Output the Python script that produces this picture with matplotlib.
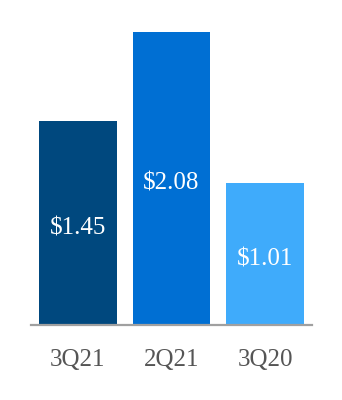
import matplotlib
matplotlib.use("Agg")
import matplotlib.pyplot as plt

categories = ["3Q21", "2Q21", "3Q20"]
values = [1.45, 2.08, 1.01]
labels = ["$1.45", "$2.08", "$1.01"]
colors = ["#00487e", "#006fd3", "#3fabfb"]

fig = plt.figure(figsize=(3.42, 4.0), dpi=100)
ax = fig.add_axes([31/342, 75/400, (312-31)/342, 300/400])
x = list(range(len(categories)))
bars = ax.bar(x, values, width=0.83, color=colors)
for xi, v, lab in zip(x, values, labels):
    ax.annotate(lab, (xi, v/2), xytext=(0, -4), textcoords="offset points",
                ha="center", va="center", color="white",
                fontsize=18, family="Liberation Serif")
ax.set_xlim(-0.5, 2.5)
ax.set_ylim(0, 300/141.0)
ax.set_xticks(x)
ax.set_xticklabels(categories, family="Liberation Serif", fontsize=18, color="#555555")
ax.tick_params(axis="x", length=0, pad=17)
ax.set_yticks([])
for s in ["top", "right", "left"]:
    ax.spines[s].set_visible(False)
ax.spines["bottom"].set_color("#a0a0a0")
ax.spines["bottom"].set_linewidth(1.6)
fig.savefig("out.png", dpi=100)
